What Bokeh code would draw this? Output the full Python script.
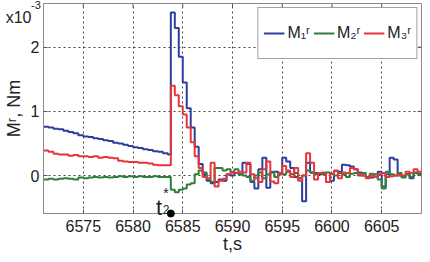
from bokeh.plotting import figure
from bokeh.models import Range1d, FixedTicker, Legend, LegendItem
from bokeh.core.properties import value
from bokeh.embed import file_html
from bokeh.resources import INLINE

# time samples (s)
t = [6571.0, 6571.5, 6572.0, 6572.5, 6573.0, 6573.5, 6574.0, 6574.5, 6575.0, 6575.5,
     6576.0, 6576.5, 6577.0, 6577.5, 6578.0, 6578.5, 6579.0, 6579.5, 6580.0, 6580.5,
     6581.0, 6581.5, 6582.0, 6582.5, 6583.0, 6583.5,
     6583.8, 6584.2, 6584.6, 6585.0, 6585.4, 6585.8, 6586.2, 6586.6, 6587.0, 6587.4, 6587.8,
     6588.2, 6588.6, 6589.0, 6589.4, 6589.8, 6590.2, 6590.6, 6591.0, 6591.4, 6591.8,
     6592.2, 6592.6, 6593.0, 6593.4, 6593.8, 6594.2, 6594.6, 6595.0, 6595.4, 6595.8,
     6596.2, 6596.6, 6597.0, 6597.4, 6597.8, 6598.2, 6598.6, 6599.0, 6599.4, 6599.8,
     6600.2, 6600.6, 6601.0, 6601.4, 6601.8, 6602.2, 6602.6, 6603.0, 6603.4, 6603.8,
     6604.2, 6604.6, 6605.0, 6605.4, 6605.8, 6606.2, 6606.6, 6607.0, 6607.4, 6607.8,
     6608.2, 6608.6, 6609.0]

# M1^r (x 1e-3 Nm)
m1 = [0.76, 0.75, 0.73, 0.72, 0.70, 0.68, 0.66, 0.63, 0.61, 0.60,
      0.58, 0.57, 0.55, 0.54, 0.51, 0.50, 0.48, 0.46, 0.44, 0.43,
      0.41, 0.40, 0.38, 0.37, 0.35, 0.33,
      2.54, 2.30, 1.85, 1.45, 1.05, 0.75, 0.45, 0.18, 0.02, -0.08, -0.12,
      -0.10, -0.06, -0.08, 0.02, 0.00, 0.04, 0.02, 0.20, 0.18, -0.10,
      -0.20, 0.10, 0.28, -0.19, 0.05, 0.06, 0.04, 0.28, 0.22, 0.12,
      -0.02, -0.04, -0.40, 0.20, 0.05, 0.04, 0.02, 0.03, -0.10, -0.08,
      0.07, 0.06, 0.17, 0.16, 0.14, 0.10, 0.05, 0.00, -0.02, -0.03,
      -0.02, 0.06, -0.17, 0.02, 0.28, 0.25, 0.00, -0.02, 0.02, -0.04,
      0.05, 0.03, 0.03]

# M2^r
m2 = [-0.06, -0.05, -0.06, -0.05, -0.04, -0.05, -0.06, -0.03, -0.04, -0.03,
      -0.02, -0.03, -0.02, -0.03, -0.02, -0.01, -0.02, -0.01, -0.02, -0.01,
      -0.02, -0.02, -0.01, -0.02, -0.02, -0.02,
      -0.22, -0.26, -0.22, -0.20, -0.14, -0.12, 0.02, 0.08, 0.05, -0.05, -0.10,
      0.12, 0.12, 0.08, 0.10, 0.06, 0.10, 0.02, 0.00, -0.02, -0.08,
      0.00, 0.05, -0.04, 0.02, 0.06, -0.02, 0.04, 0.02, 0.06, 0.02,
      0.04, -0.04, 0.00, 0.08, 0.05, 0.02, 0.04, 0.02, 0.05, 0.03,
      0.00, 0.04, 0.02, -0.02, 0.03, 0.04, 0.00, 0.04, -0.02, 0.03,
      0.02, -0.06, -0.20, 0.06, 0.02, 0.00, 0.04, -0.03, 0.02, -0.02,
      0.04, 0.02, 0.02]

# M3^r
m3 = [0.39, 0.37, 0.34, 0.33, 0.33, 0.31, 0.32, 0.30, 0.30, 0.29,
      0.30, 0.28, 0.29, 0.28, 0.27, 0.23, 0.22, 0.21, 0.21, 0.20,
      0.20, 0.19, 0.17, 0.16, 0.16, 0.16,
      1.40, 1.25, 1.08, 0.95, 0.75, 0.52, 0.30, 0.12, -0.02, -0.04, 0.20,
      -0.17, -0.08, -0.05, 0.02, 0.05, 0.04, 0.06, 0.05, 0.20, 0.02,
      -0.04, -0.10, 0.10, 0.22, -0.09, -0.12, 0.02, 0.15, 0.08, -0.02,
      0.12, -0.08, 0.00, 0.35, 0.20, -0.06, 0.04, 0.05, -0.10, 0.02,
      0.08, -0.04, 0.05, 0.04, 0.12, 0.10, 0.02, 0.00, -0.04, 0.00,
      -0.02, 0.02, 0.04, -0.02, -0.01, 0.00, 0.01, 0.00, 0.06, 0.04,
      0.10, 0.06, 0.08]

t2_star = 6583.8
x_ticks = [6575, 6580, 6585, 6590, 6595, 6600, 6605]
y_ticks = [0, 1, 2]
labels = ["M\u2081\u02b3", "M\u2082\u02b3", "M\u2083\u02b3"]
colors = ["#2c3e9e", "#2f7d3a", "#e8353a"]

FONT = "Liberation Sans"
TXT = "#222222"
X0, X1 = 6571.0, 6609.0
Y0, Y1 = -0.59, 2.68

p = figure(width=422, height=253, output_backend="svg", toolbar_location=None,
           x_range=Range1d(X0, X1), y_range=Range1d(Y0, Y1),
           min_border_top=3, min_border_right=1, min_border_left=28, min_border_bottom=40)

p.outline_line_color = "#8a8a8a"
p.outline_line_width = 1

for ax in (p.xaxis, p.yaxis):
    ax.major_tick_in = 4
    ax.major_tick_out = 0
    ax.minor_tick_line_color = None
    ax.axis_line_color = "#8a8a8a"
    ax.major_tick_line_color = "#555555"
    ax.major_label_text_font = FONT
    ax.major_label_text_font_size = "16px"
    ax.major_label_text_color = TXT
    ax.axis_label_text_font = FONT
    ax.axis_label_text_font_style = "normal"
    ax.axis_label_text_font_size = "18px"
    ax.axis_label_text_color = TXT

p.xaxis.ticker = FixedTicker(ticks=x_ticks)
p.yaxis.ticker = FixedTicker(ticks=y_ticks)
p.xaxis.major_label_standoff = 6
p.yaxis.major_label_standoff = 4
p.yaxis.axis_label = "M\u02b3, Nm"
p.yaxis.axis_label_standoff = 4

p.grid.grid_line_color = "#444444"
p.grid.grid_line_dash = "2 3"
p.grid.grid_line_width = 1
p.xgrid.ticker = FixedTicker(ticks=x_ticks)
p.ygrid.ticker = FixedTicker(ticks=y_ticks)

# inward ticks on the top and right edges (mirroring the axis ticks)
p.segment(x0=x_ticks, y0=[Y1] * len(x_ticks), x1=x_ticks, y1=[Y1 - 0.06] * len(x_ticks),
          line_color="#555555", line_width=1)
p.segment(x0=[X1] * len(y_ticks), y0=y_ticks, x1=[X1 - 0.4] * len(y_ticks), y1=y_ticks,
          line_color="#555555", line_width=1)

r1 = p.step(t, m1, mode="after", line_color=colors[0], line_width=2)
r2 = p.step(t, m2, mode="after", line_color=colors[1], line_width=2)
r3 = p.step(t, m3, mode="after", line_color=colors[2], line_width=2)

legend = Legend(items=[LegendItem(label=labels[0], renderers=[r1]),
                       LegendItem(label=labels[1], renderers=[r2]),
                       LegendItem(label=labels[2], renderers=[r3])],
                orientation="horizontal", location="top_right",
                label_text_font=FONT, label_text_font_size="16px",
                label_text_color=TXT,
                glyph_width=21, glyph_height=40, label_height=40,
                label_standoff=3, spacing=3, padding=5, margin=4,
                border_line_color="#444444", border_line_width=1,
                background_fill_color="white", background_fill_alpha=1)
p.add_layout(legend)

# x-axis title
p.text(x=[6590.0], y=[-1.07], text=["t,s"], text_font=value(FONT),
       text_font_size="18px", text_baseline="middle", text_align="center",
       text_color=TXT, level="overlay")

# exponent label
p.text(x=[6567.2], y=[2.60], text=["x10"], text_font=value(FONT),
       text_font_size="16px", text_baseline="top", text_align="left",
       text_color=TXT, level="overlay")
p.text(x=[6569.75], y=[2.725], text=["-3"], text_font=value(FONT),
       text_font_size="11px", text_baseline="top", text_align="left",
       text_color=TXT, level="overlay")

# t2* marker
p.scatter([t2_star], [Y0], size=7, color="black", level="overlay")
p.text(x=[6582.3], y=[-0.50], text=["t"], text_font=value(FONT),
       text_font_size="22px", text_baseline="alphabetic", text_align="left",
       text_color=TXT, level="overlay")
p.text(x=[6583.0], y=[-0.52], text=["2"], text_font=value(FONT),
       text_font_size="12px", text_baseline="alphabetic", text_align="left",
       text_color=TXT, level="overlay")
p.text(x=[6583.05], y=[-0.14], text=["*"], text_font=value(FONT),
       text_font_size="14px", text_baseline="top", text_align="left",
       text_color=TXT, level="overlay")

open("out.html", "w").write(file_html(p, INLINE))
